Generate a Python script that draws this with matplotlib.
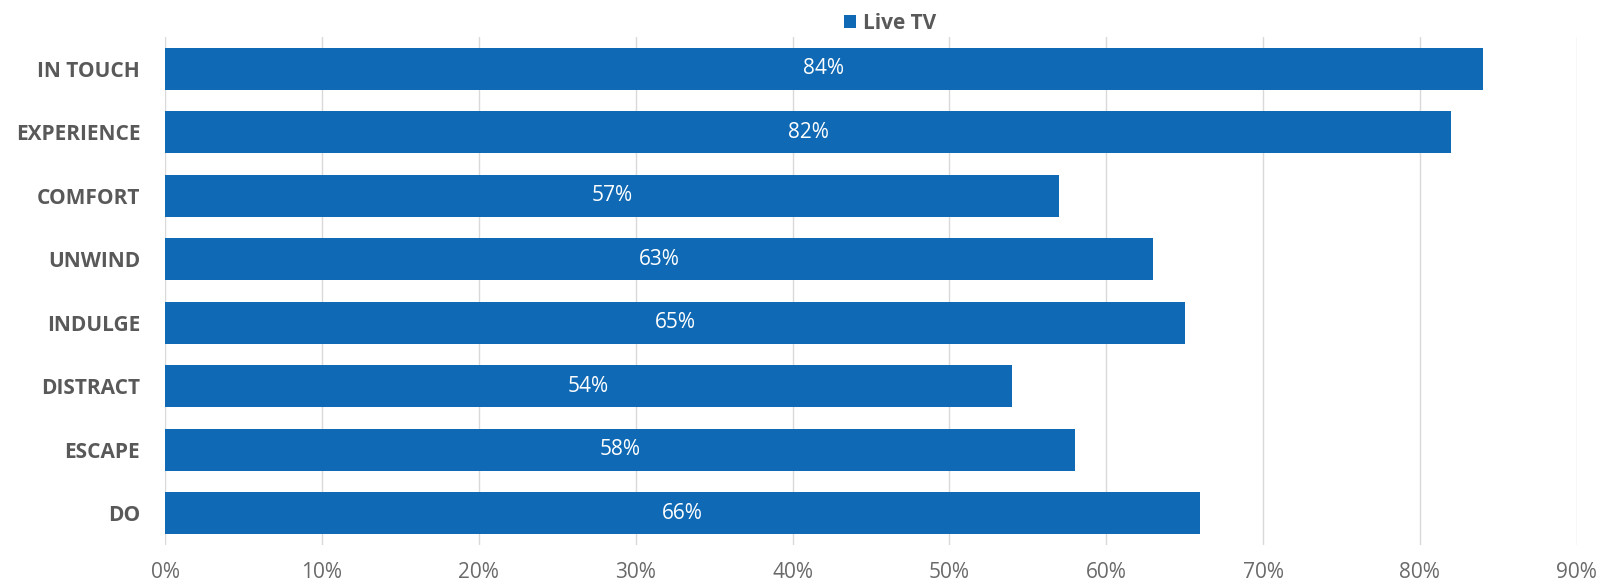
import matplotlib.pyplot as plt
from matplotlib.ticker import PercentFormatter

# dados do grafico
categorias = ["IN TOUCH", "EXPERIENCE", "COMFORT", "UNWIND", "INDULGE", "DISTRACT", "ESCAPE", "DO"]
valores = [84, 82, 57, 63, 65, 54, 58, 66]
ticks_x = [0, 10, 20, 30, 40, 50, 60, 70, 80, 90]

plt.rcParams['font.family'] = ['Open Sans', 'DejaVu Sans']

fig = plt.figure(figsize=(16.04, 5.86), dpi=100)
ax = fig.add_axes([0.103, 0.070, 0.880, 0.867])

azul = '#0f69b4'
cinza = '#595959'

pos = list(range(len(categorias)))
barras = ax.barh(pos, valores, height=0.66, color=azul, label='Live TV', zorder=3)
ax.set_ylim(len(categorias) - 0.5, -0.5)
ax.set_xlim(0, 90)
ax.set_xticks(ticks_x)
ax.xaxis.set_major_formatter(PercentFormatter(decimals=0))

# rotulos dentro das barras
for b, v in zip(barras, valores):
    ax.text(v / 2, b.get_y() + b.get_height() / 2, f"{v}%", color='white',
            ha='center', va='center', fontsize=15)

ax.set_yticks(pos)
ax.set_yticklabels(categorias, fontsize=15, fontweight='bold', color=cinza)
ax.tick_params(axis='x', labelsize=15, labelcolor='#6a6a6a', length=0, pad=12)
ax.tick_params(axis='y', length=0, pad=18)
ax.grid(axis='x', color='#d9d9d9', linewidth=1, zorder=0)
for s in ax.spines.values():
    s.set_visible(False)

fig.legend(loc='upper center', bbox_to_anchor=(0.555, 1.01), frameon=False,
           handlelength=0.6, handleheight=0.6, handletextpad=0.35,
           prop={'size': 15, 'weight': 'bold'}, labelcolor=cinza)

fig.savefig('out.png', dpi=100)
